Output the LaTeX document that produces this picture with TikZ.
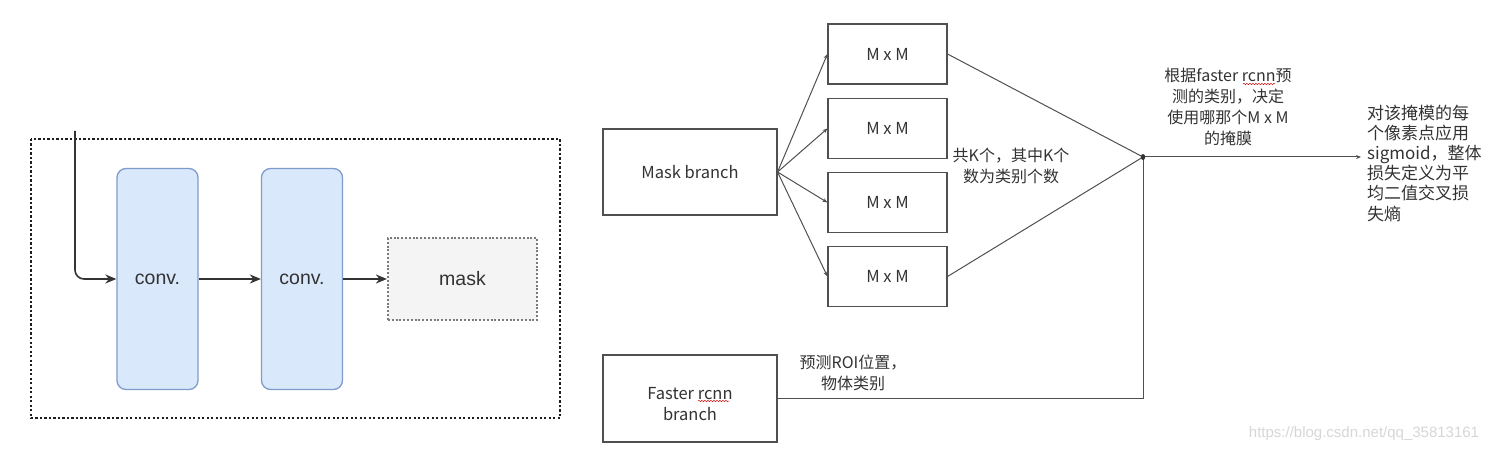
\documentclass[tikz,border=0pt]{standalone}
\usepackage{fontspec}
\setmainfont{Liberation Sans}
\newfontfamily\cjk{Noto Sans CJK SC}
\usetikzlibrary{arrows.meta,decorations.pathmorphing}
\definecolor{convfill}{HTML}{DAE8FC}
\definecolor{convline}{HTML}{7E9CCB}
\definecolor{maskfill}{HTML}{F4F4F4}
\definecolor{ink}{HTML}{333333}
\definecolor{dotc}{HTML}{1E1E1E}
\definecolor{maskline}{HTML}{7A7A7A}
\definecolor{lineg}{HTML}{505050}
\definecolor{wm}{HTML}{D6D6D6}
\tikzset{
  dotbox/.style={draw=dotc, line width=2.8pt, dash pattern=on 2.4pt off 2.1pt},
  convbox/.style={draw=convline, fill=convfill, line width=1.3pt, rounded corners=9pt,
    minimum width=81pt, minimum height=221pt, inner sep=0pt, text=ink,
    font=\fontsize{19.5}{22}\selectfont},
  maskbox/.style={draw=maskline, fill=maskfill, line width=2.2pt, dash pattern=on 2pt off 1.8pt,
    minimum width=149pt, minimum height=82pt, inner sep=0pt, text=ink,
    font=\fontsize{19.5}{22}\selectfont},
  leftarr/.style={draw=ink, line width=1.6pt, -{Stealth[length=11pt,width=9pt]}},
  rbox/.style={draw=lineg, line width=1.1pt, inner sep=0pt, text=ink,
    font=\cjk\fontsize{16.5}{21}\selectfont, align=center},
  mmbox/.style={rbox, minimum width=119pt, minimum height=60pt},
  bigbox/.style={rbox, minimum width=174pt, minimum height=86pt},
  conn/.style={draw=lineg, line width=1pt},
  thinarr/.style={conn, -{Stealth[length=5pt,width=4pt]}},
  txt/.style={text=ink, font=\cjk\fontsize{16}{21}\selectfont, align=center, inner sep=0pt},
  squig/.style={draw=red!80!black, line width=0.5pt, decorate,
    decoration={snake, amplitude=0.6pt, segment length=3pt}}
}
\begin{document}
\begin{tikzpicture}[x=1pt,y=-1pt]
\useasboundingbox (0,0) rectangle (1497,449);
% ---------- left panel ----------
\draw[dotbox] (31,139) rectangle (560,418);
\node[convbox] (c1) at (157.5,279) {conv.};
\node[convbox] (c2) at (302,279) {conv.};
\node[maskbox] (mk) at (462.5,279) {mask};
\coordinate (in) at (75,131);
\draw[leftarr, rounded corners=9pt] (in) |- (c1.west);
\draw[leftarr] (c1.east) -- (c2.west);
\draw[leftarr] (c2.east) -- (mk.west);
% ---------- right panel ----------
\node[bigbox] (mb) at (690,172) {Mask branch};
\node[mmbox] (m1) at (887.5,54) {M x M};
\node[mmbox] (m2) at (887.5,128.5) {M x M};
\node[mmbox] (m3) at (887.5,202.5) {M x M};
\node[mmbox] (m4) at (887.5,276.5) {M x M};
\node[bigbox, minimum height=87pt] (fb) at (690,398.5) {};
\node[txt, font=\cjk\fontsize{16.5}{21}\selectfont] (fbt) at (690,404) {Faster rcnn\\branch};
\coordinate (j) at (1143,157);
\coordinate (out) at (1361,157);
\foreach \m in {m1,m2,m3,m4}{\draw[thinarr] (mb.east) -- (\m.west);}
\draw[conn] (m1.east) -- (j);
\draw[conn] (m4.east) -- (j);
\draw[conn] (fb.east) -| (j);
\draw[thinarr] (j) -- (out);
\fill[ink] (j) ellipse (2.2pt and 3pt);
\node[txt] (t1) at (1011,166) {共K个，其中K个\\数为类别个数};
\node[txt] (t2) at (1228,107) {根据faster rcnn预\\测的类别，决定\\使用哪那个M x M\\的掩膜};
\node[txt, anchor=west, align=left, font=\cjk\fontsize{17}{20.2}\selectfont] (t3) at (1367,163)
  {对该掩模的每\\个像素点应用\\sigmoid，整体\\损失定义为平\\均二值交叉损\\失熵};
\node[txt] (t4) at (853,373) {预测ROI位置，\\物体类别};
\node[text=wm, font=\fontsize{15}{16}\selectfont, inner sep=0pt] (wmk) at (1364,434) {https://blog.csdn.net/qq\_35813161};
% spell-check squiggles
\draw[squig] (698,401) -- (729,401);
\draw[squig] (1243,84) -- (1275,84);
\end{tikzpicture}
\end{document}
